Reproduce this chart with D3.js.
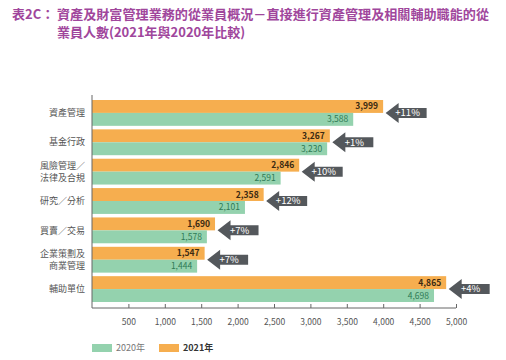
<!DOCTYPE html>
<html><head><meta charset="utf-8">
<script src="https://cdn.jsdelivr.net/npm/d3@7"></script>
<style>body{margin:0;background:#fff}svg{display:block}</style>
</head><body><svg id="c" width="506" height="360"></svg>
<script>
const categories = [["資產管理"],["基金行政"],["風險管理／","法律及合規"],["研究／分析"],["買賣／交易"],["企業策劃及","商業管理"],["輔助單位"]];
const values2021 = [3999,3267,2846,2358,1690,1547,4865];
const values2020 = [3588,3230,2591,2101,1578,1444,4698];
const changes = ["+11%","+1%","+10%","+12%","+7%","+7%","+4%"];
const ticks = [500,1000,1500,2000,2500,3000,3500,4000,4500,5000];
const seriesNames = ["2021年","2020年"];

const svg = d3.select("#c");
const font = "'Noto Sans CJK TC','Noto Sans',sans-serif";
const cOrange = "#f6ae4f", cGreen = "#94d2ae";

// title
const t = svg.append("g").attr("font-family", font).attr("fill", "#a0469c").attr("font-size", 13).attr("font-weight", "bold");
t.append("text").attr("x", 12).attr("y", 19).text("表2C：");
t.append("text").attr("x", 57).attr("y", 19).attr("textLength", 432).attr("lengthAdjust","spacingAndGlyphs").text("資產及財富管理業務的從業員概況－直接進行資產管理及相關輔助職能的從");
t.append("text").attr("x", 57).attr("y", 37).text("業員人數(2021年與2020年比較)");

const x = d3.scaleLinear().domain([0,5000]).range([92,456]);
const y = d3.scaleBand().domain(d3.range(categories.length)).range([100,302]).paddingInner(0.12);
const yi = d3.scaleBand().domain([0,1]).range([0,y.bandwidth()]);

const rows = svg.append("g").selectAll("g").data(categories).join("g")
  .attr("transform",(d,i)=>`translate(0,${y(i)})`);

rows.append("rect").attr("x",x(0)).attr("y",yi(0)).attr("height",yi.bandwidth())
  .attr("width",(d,i)=>x(values2021[i])-x(0)).attr("fill",cOrange);
rows.append("rect").attr("x",x(0)).attr("y",yi(1)).attr("height",yi.bandwidth())
  .attr("width",(d,i)=>x(values2020[i])-x(0)).attr("fill",cGreen);

const fmt = d3.format(",");
rows.append("text").attr("x",(d,i)=>x(values2021[i])-5).attr("y",yi(0)+yi.bandwidth()/2)
  .attr("dy","0.35em").attr("text-anchor","end").attr("font-family",font).attr("font-size",8.5)
  .attr("font-weight","bold").attr("fill","#3b2a12").text((d,i)=>fmt(values2021[i]));
rows.append("text").attr("x",(d,i)=>x(values2020[i])-5).attr("y",yi(1)+yi.bandwidth()/2)
  .attr("dy","0.35em").attr("text-anchor","end").attr("font-family",font).attr("font-size",8.5)
  .attr("fill","#2f7a55").text((d,i)=>fmt(values2020[i]));

// arrows
const mid = y.bandwidth()/2;
rows.append("path").attr("fill","#54585c").attr("d",(d,i)=>{
  const tip = x(values2021[i])+2.5;
  return `M${tip},${mid} L${tip+13},${mid-10} L${tip+13},${mid-5} L${tip+41},${mid-5} L${tip+41},${mid+5} L${tip+13},${mid+5} L${tip+13},${mid+10} Z`;
});
rows.append("text").attr("x",(d,i)=>x(values2021[i])+2.5+22).attr("y",mid).attr("dy","0.36em")
  .attr("text-anchor","middle").attr("font-family",font).attr("font-size",9.5).attr("fill","#fff")
  .text((d,i)=>changes[i]);

// category labels
rows.each(function(d){
  const g = d3.select(this);
  const n = d.length;
  d.forEach((line,k)=>{
    g.append("text").attr("text-anchor","end").attr("font-family",font).attr("font-size",9).attr("fill","#555")
      .attr("x",85).attr("y",mid + (k-(n-1)/2)*12.5).attr("dy","0.35em").text(line);
  });
});

// axes
svg.append("line").attr("x1",x(0)).attr("x2",x(0)).attr("y1",95).attr("y2",308).attr("stroke","#666").attr("stroke-width",1);
const ax = svg.append("g").attr("transform","translate(0,308)")
  .call(d3.axisBottom(x).tickValues(ticks).tickSize(-4).tickPadding(9).tickFormat(d3.format(",")));
ax.select(".domain").attr("stroke","#666").attr("d",`M${x(0)},0H${x(5000)}`);
ax.selectAll(".tick line").attr("stroke","#666");
ax.selectAll(".tick text").attr("font-family",font).attr("font-size",8.5).attr("fill","#555").attr("dy","0.9em");

// legend
const lg = svg.append("g").attr("font-family",font).attr("font-size",9);
lg.append("rect").attr("x",92).attr("y",344).attr("width",20).attr("height",8).attr("fill",cGreen);
lg.append("text").attr("x",116).attr("y",348).attr("dy","0.35em").attr("fill","#777").text(seriesNames[1]);
lg.append("rect").attr("x",159).attr("y",344).attr("width",20).attr("height",8).attr("fill",cOrange);
lg.append("text").attr("x",183).attr("y",348).attr("dy","0.35em").attr("fill","#333").attr("font-weight","bold").text(seriesNames[0]);
</script></body></html>
